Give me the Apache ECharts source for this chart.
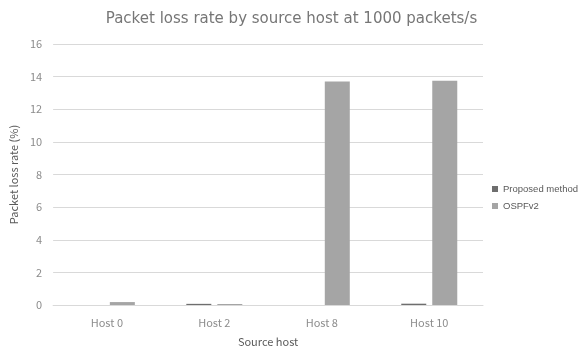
<!DOCTYPE html>
<html>
<head>
<meta charset="utf-8">
<script src="https://cdn.jsdelivr.net/npm/echarts@6/dist/echarts.min.js"></script>
<style>
  html, body { margin: 0; padding: 0; background: #fff; }
  #chart { width: 583px; height: 352px; }
</style>
</head>
<body>
<div id="chart"></div>
<script>
// Packet loss rate (%) per source host at 1000 packets/s
const hosts = ['Host 0', 'Host 2', 'Host 8', 'Host 10'];
const proposedLoss = [0, 0.07, 0, 0.08];
const ospfLoss = [0.18, 0.06, 13.7, 13.75];
const yTicks = { min: 0, max: 16, interval: 2 };

const FONT = '"Noto Sans CJK JP", "Noto Sans", sans-serif';

const chart = echarts.init(document.getElementById('chart'), null, { renderer: 'canvas' });
chart.setOption({
  animation: false,
  backgroundColor: '#ffffff',
  textStyle: { fontFamily: FONT },
  title: {
    text: 'Packet loss rate by source host at 1000 packets/s',
    left: 'center',
    top: 7,
    textStyle: { fontFamily: '"DejaVu Sans", sans-serif', fontSize: 15, fontWeight: 'normal', color: '#767676' }
  },
  legend: {
    orient: 'vertical',
    left: 487,
    top: 179,
    itemWidth: 6,
    itemHeight: 6,
    itemGap: 7,
    icon: 'rect',
    textStyle: { fontFamily: '"Liberation Sans", sans-serif', fontSize: 9.5, color: '#595959' },
    data: ['Proposed method', 'OSPFv2']
  },
  grid: { left: 50, right: 100, top: 44, bottom: 46 },
  xAxis: {
    type: 'category',
    data: hosts,
    name: 'Source host',
    nameLocation: 'middle',
    nameGap: 31,
    nameTextStyle: { fontFamily: FONT, fontSize: 11, color: '#595959' },
    axisLine: { lineStyle: { color: '#d9d9d9' } },
    axisTick: { show: false },
    axisLabel: { fontFamily: FONT, fontSize: 11, color: '#8c8c8c', margin: 12 }
  },
  yAxis: {
    type: 'value',
    min: yTicks.min,
    max: yTicks.max,
    interval: yTicks.interval,
    name: 'Packet loss rate (%)',
    nameLocation: 'middle',
    nameGap: 30,
    nameTextStyle: { fontFamily: FONT, fontSize: 11, color: '#595959' },
    axisLine: { show: false },
    axisTick: { show: false },
    axisLabel: { fontFamily: FONT, fontSize: 11, color: '#8c8c8c', margin: 11 },
    splitLine: { lineStyle: { color: '#d9d9d9' } }
  },
  series: [
    {
      name: 'Proposed method',
      type: 'bar',
      data: proposedLoss,
      barWidth: 25,
      barGap: '24%',
      itemStyle: { color: '#6e6e6e' }
    },
    {
      name: 'OSPFv2',
      type: 'bar',
      data: ospfLoss,
      barWidth: 25,
      barGap: '24%',
      itemStyle: { color: '#a5a5a5' }
    }
  ]
});
</script>
</body>
</html>
